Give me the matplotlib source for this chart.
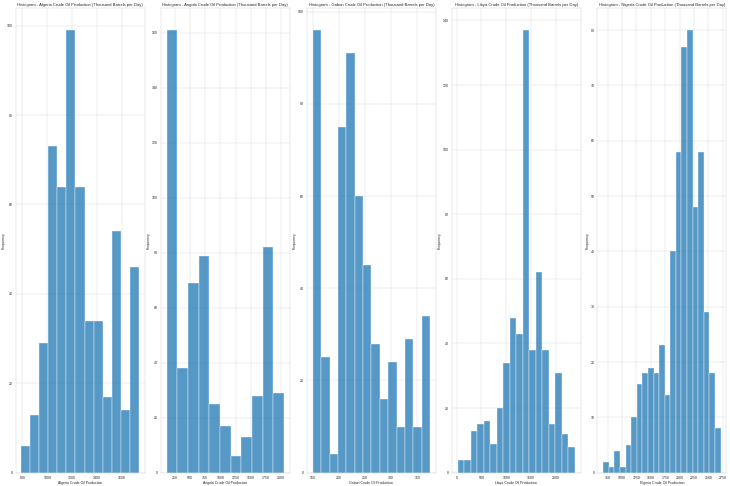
import matplotlib
matplotlib.use("Agg")
import matplotlib.pyplot as plt
import seaborn as sns
import numpy as np

# ---- data ----
countries = ["Algeria", "Angola", "Gabon", "Libya", "Nigeria"]

algeria_range = (792, 1734)
algeria_counts = [6, 13, 29, 73, 64, 99, 64, 34, 34, 17, 54, 14, 46]
algeria_xticks = [800, 1000, 1200, 1400, 1600]
algeria_yticks = [0, 20, 40, 60, 80, 100]

angola_range = (113, 2050)
angola_counts = [161, 38, 69, 79, 25, 17, 6, 13, 28, 82, 29]
angola_xticks = [250, 500, 750, 1000, 1250, 1500, 1750, 2000]
angola_yticks = [0, 20, 40, 60, 80, 100, 120, 140, 160]

gabon_range = (150, 374)
gabon_counts = [96, 25, 4, 75, 91, 60, 45, 28, 16, 24, 10, 29, 10, 34]
gabon_xticks = [150, 200, 250, 300, 350]
gabon_yticks = [0, 20, 40, 60, 80, 100]

libya_range = (22, 2380)
libya_counts = [4, 4, 13, 15, 16, 9, 20, 34, 48, 43, 137, 38, 62, 38, 15, 31, 12, 8]
libya_xticks = [0, 500, 1000, 1500, 2000]
libya_yticks = [0, 20, 40, 60, 80, 100, 120, 140]

nigeria_range = (674, 2709)
nigeria_counts = [2, 1, 4, 1, 5, 10, 16, 18, 19, 18, 23, 14, 40, 58, 77, 80, 48, 58, 29, 18, 8]
nigeria_xticks = [750, 1000, 1250, 1500, 1750, 2000, 2250, 2500, 2750]
nigeria_yticks = [0, 10, 20, 30, 40, 50, 60, 70, 80]

panels = [
    (algeria_range, algeria_counts, algeria_xticks, algeria_yticks),
    (angola_range, angola_counts, angola_xticks, angola_yticks),
    (gabon_range, gabon_counts, gabon_xticks, gabon_yticks),
    (libya_range, libya_counts, libya_xticks, libya_yticks),
    (nigeria_range, nigeria_counts, nigeria_xticks, nigeria_yticks),
]

# ---- style ----
sns.set_theme(style="whitegrid")
plt.rcParams["font.family"] = ["Liberation Sans", "DejaVu Sans"]

DPI = 730 / 32.0
fig = plt.figure(figsize=(32, 486 / DPI), dpi=DPI)

W = 730.0
H = 486.0
lefts = [15.5, 160.8, 306.9, 451.8, 597.4]
ax_w = 129.0
ax_top = 8.0
ax_bot = 472.7

for i, (country, (rng, counts, xt, yt)) in enumerate(zip(countries, panels)):
    ax = fig.add_axes([lefts[i] / W, (H - ax_bot) / H, ax_w / W, (ax_bot - ax_top) / H])
    edges = np.linspace(rng[0], rng[1], len(counts) + 1)
    centers = (edges[:-1] + edges[1:]) / 2
    ax.hist(centers, bins=edges, weights=np.asarray(counts, dtype=float),
            color="#1f77b4", alpha=0.75, edgecolor="white", linewidth=1.5)
    ax.set_xticks(xt)
    ax.set_yticks(yt)
    ax.tick_params(labelsize=11, pad=3)
    ax.set_title(f"Histogram - {country} Crude Oil Production (Thousand Barrels per Day)",
                 fontsize=13, pad=6)
    ax.set_xlabel(f"{country} Crude Oil Production", fontsize=11, labelpad=3)
    ax.set_ylabel("Frequency", fontsize=11, labelpad=3)

fig.savefig("out.png", dpi=DPI)
